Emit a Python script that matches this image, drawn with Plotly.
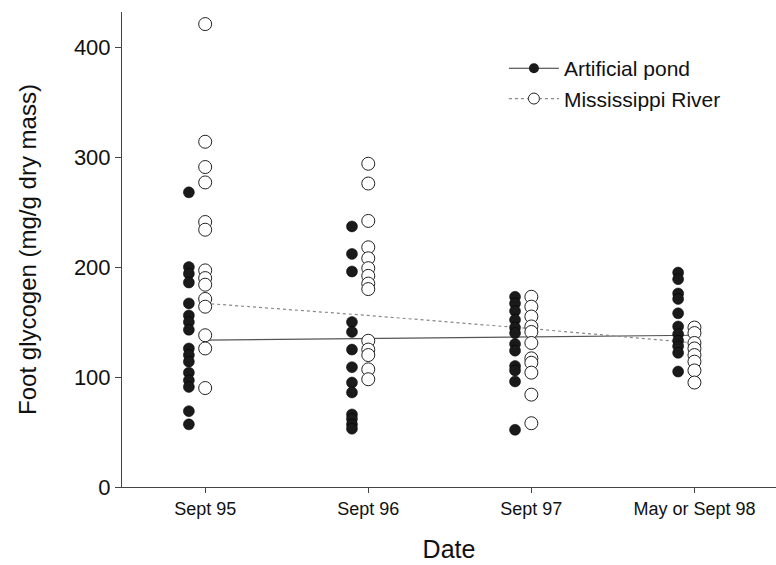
import plotly.graph_objects as go

categories = ["Sept 95", "Sept 96", "Sept 97", "May or Sept 98"]

pond_values = [
    [268, 200, 194, 186, 167, 156, 150, 143, 126, 120, 114, 104, 97, 91, 69, 57],
    [237, 212, 196, 150, 141, 125, 109, 95, 86, 66, 62, 57, 53],
    [173, 167, 160, 152, 145, 140, 130, 124, 110, 106, 96, 52],
    [195, 189, 176, 171, 158, 146, 139, 133, 128, 122, 105],
]
river_values = [
    [421, 314, 291, 277, 241, 234, 197, 190, 184, 171, 164, 138, 126, 90],
    [294, 276, 242, 218, 208, 199, 192, 185, 180, 133, 125, 120, 107, 98],
    [173, 164, 155, 146, 141, 131, 117, 113, 104, 84, 58],
    [145, 140, 131, 126, 120, 114, 106, 95],
]
pond_line = [133.5, 135, 136.5, 138]
river_line = [167, 156, 144, 131]

pond_offset = -0.1
river_offset = 0.0

fig = go.Figure()

# lines
fig.add_trace(go.Scatter(x=list(range(len(categories))), y=pond_line, mode="lines",
                         line=dict(color="#555555", width=1.2), showlegend=False, hoverinfo="skip"))
fig.add_trace(go.Scatter(x=list(range(len(categories))), y=river_line, mode="lines",
                         line=dict(color="#888888", width=1.2, dash="dot"), showlegend=False, hoverinfo="skip"))

# points
px, py = [], []
for i, vals in enumerate(pond_values):
    px += [i + pond_offset] * len(vals)
    py += vals
rx, ry = [], []
for i, vals in enumerate(river_values):
    rx += [i + river_offset] * len(vals)
    ry += vals

fig.add_trace(go.Scatter(x=px, y=py, mode="markers", showlegend=False,
                         marker=dict(size=11, color="#1a1a1a", line=dict(color="#000", width=0.5))))
fig.add_trace(go.Scatter(x=rx, y=ry, mode="markers", showlegend=False,
                         marker=dict(size=13, color="white", line=dict(color="#222", width=1))))

# legend entries
fig.add_trace(go.Scatter(x=[None], y=[None], mode="lines+markers", name="Artificial pond",
                         line=dict(color="#333", width=1.2),
                         marker=dict(size=10, color="#1a1a1a")))
fig.add_trace(go.Scatter(x=[None], y=[None], mode="lines+markers", name="Mississippi River",
                         line=dict(color="#888", width=1.2, dash="dot"),
                         marker=dict(size=11, color="white", line=dict(color="#222", width=1))))

font_family = "Liberation Sans, Arial, Helvetica, sans-serif"
fig.update_layout(
    width=776, height=565,
    margin=dict(l=122, r=0, t=12, b=78),
    plot_bgcolor="white", paper_bgcolor="white",
    font=dict(family=font_family, color="#111"),
    legend=dict(x=0.584, y=0.924, xanchor="left", yanchor="top",
                font=dict(size=21, color="#111"), bgcolor="rgba(0,0,0,0)",
                itemwidth=50, tracegroupgap=0),
    xaxis=dict(range=[-0.51, 3.5], tickmode="array",
               tickvals=list(range(len(categories))), ticktext=categories,
               showgrid=False, zeroline=False, showline=True, linecolor="#444", linewidth=1,
               ticks="outside", ticklen=5, tickcolor="#444",
               tickfont=dict(size=18, color="#111"),
               title=dict(text="Date", font=dict(size=25, color="#111"), standoff=22)),
    yaxis=dict(range=[0, 432], tickvals=[0, 100, 200, 300, 400],
               showgrid=False, zeroline=False, showline=True, linecolor="#444", linewidth=1,
               ticks="outside", ticklen=6, tickcolor="#444",
               tickfont=dict(size=22, color="#111"),
               title=dict(text="Foot glycogen (mg/g dry mass)", font=dict(size=24, color="#111"), standoff=30)),
)

fig.write_html("out.html")
